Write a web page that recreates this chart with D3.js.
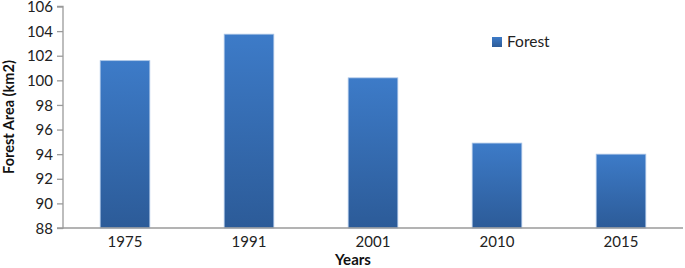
<!DOCTYPE html>
<html><head><meta charset="utf-8">
<script src="https://cdn.jsdelivr.net/npm/d3@7"></script>
<style>body{margin:0;background:#fff}svg{display:block}</style>
</head><body>
<script>
const categories = ["1975", "1991", "2001", "2010", "2015"];
const forestValues = [101.6, 103.75, 100.2, 94.9, 94.0];
const yTicks = [88, 90, 92, 94, 96, 98, 100, 102, 104, 106];
const seriesName = "Forest";

const W = 685, H = 268;
const m = {left: 63, right: 2, top: 6.5, bottom: 40};
const svg = d3.select("body").append("svg").attr("width", W).attr("height", H);
const font = "Lato, 'Open Sans', sans-serif";

const defs = svg.append("defs");
const grad = defs.append("linearGradient").attr("id", "bg").attr("x1", 0).attr("y1", 0).attr("x2", 0).attr("y2", 1);
grad.append("stop").attr("offset", "0%").attr("stop-color", "#3d7bc8");
grad.append("stop").attr("offset", "100%").attr("stop-color", "#2c5b98");

const x = d3.scaleBand().domain(categories).range([m.left, W - m.right]).paddingInner(0.6).paddingOuter(0.3);
const y = d3.scaleLinear().domain([88, 106]).range([H - m.bottom, m.top]);

svg.selectAll("rect.bar").data(forestValues).join("rect").attr("class", "bar")
  .attr("x", (d, i) => x(categories[i]))
  .attr("y", d => y(d))
  .attr("width", x.bandwidth())
  .attr("height", d => y(88) - y(d))
  .attr("fill", "url(#bg)")
  .attr("stroke", "#a9c4e6").attr("stroke-width", 0.8);

const yAxis = svg.append("g").attr("transform", `translate(${m.left},0)`)
  .call(d3.axisLeft(y).tickValues(yTicks).tickSize(6).tickPadding(4));
const xAxis = svg.append("g").attr("transform", `translate(0,${y(88)})`)
  .call(d3.axisBottom(x).tickSize(0).tickPadding(8));
[yAxis, xAxis].forEach(g => {
  g.selectAll("path,line").attr("stroke", "#9a9a9a").attr("stroke-width", 1.3);
  g.selectAll("text").attr("font-family", font).attr("font-size", 15).attr("fill", "#222");
});
yAxis.selectAll(".tick text").attr("dy", "0.34em");
yAxis.select(".domain").attr("d", `M-6,${y(106)}H0V${y(88)}H-6`);
xAxis.select(".domain").attr("d", `M${m.left},0H${W - m.right}`);

svg.append("text").attr("x", 353).attr("y", 265).attr("text-anchor", "middle")
  .attr("font-family", font).attr("font-weight", "bold").attr("font-size", 15).attr("fill", "#111").text("Years");
svg.append("text").attr("transform", "translate(14,117) rotate(-90)").attr("text-anchor", "middle")
  .attr("font-family", font).attr("font-weight", "bold").attr("font-size", 14.5).attr("fill", "#111").text("Forest Area (km2)");

const lg = svg.append("g").attr("transform", "translate(492,37)");
lg.append("rect").attr("width", 10).attr("height", 10).attr("fill", "url(#bg)");
lg.append("text").attr("x", 15).attr("y", 10).attr("font-family", font).attr("font-size", 15.5).attr("fill", "#222").text(seriesName);
</script>
</body></html>
